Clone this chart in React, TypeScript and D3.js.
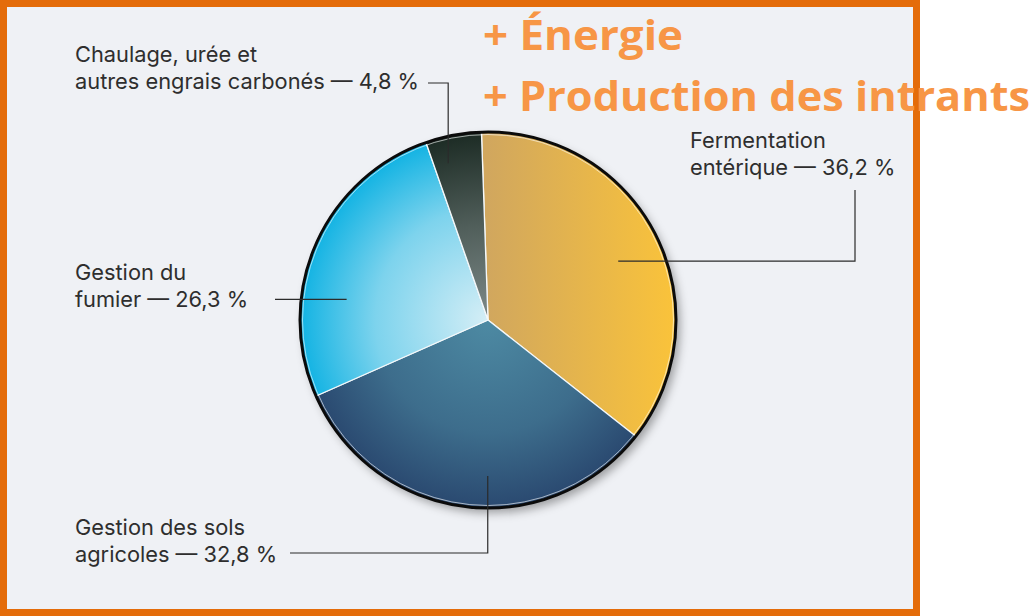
import React, { useEffect, useRef } from 'react';
import * as d3 from 'd3';

const categories = [
  'Fermentation entérique',
  'Gestion des sols agricoles',
  'Gestion du fumier',
  'Chaulage, urée et autres engrais carbonés',
];
const shares = [36.2, 32.8, 26.3, 4.8];
const labelLines = [
  ['Fermentation', 'entérique — 36,2 %'],
  ['Gestion des sols', 'agricoles — 32,8 %'],
  ['Gestion du', 'fumier — 26,3 %'],
  ['Chaulage, urée et', 'autres engrais carbonés — 4,8 %'],
];
const overlayLines = ['+ Énergie', '+ Production des intrants'];

const W = 1034;
const H = 616;

const App = () => {
  const svgRef = useRef<SVGSVGElement>(null);

  useEffect(() => {
    const svg = d3.select(svgRef.current);
    svg.selectAll('*').remove();

    const cx = 488, cy = 320, R = 188;
    const start = (-2 * Math.PI) / 180;

    const defs = svg.append('defs');
    const shadow = defs.append('filter').attr('id', 'shadow')
      .attr('x', '-20%').attr('y', '-20%').attr('width', '140%').attr('height', '140%');
    shadow.append('feDropShadow')
      .attr('dx', 4).attr('dy', 5).attr('stdDeviation', 5)
      .attr('flood-color', '#000').attr('flood-opacity', 0.35);

    // gradients live in the pie group's coordinates (centre at 0,0)
    const yellow = defs.append('linearGradient').attr('id', 'g0')
      .attr('gradientUnits', 'userSpaceOnUse')
      .attr('x1', 0).attr('y1', 0).attr('x2', R).attr('y2', 0);
    yellow.append('stop').attr('offset', 0).attr('stop-color', '#d1a75e');
    yellow.append('stop').attr('offset', 1).attr('stop-color', '#fac33a');

    const radial = (id: string, inner: string, outer: string, mid = 0.55) => {
      const g = defs.append('radialGradient').attr('id', id)
        .attr('gradientUnits', 'userSpaceOnUse')
        .attr('cx', 0).attr('cy', 0).attr('r', R);
      g.append('stop').attr('offset', 0).attr('stop-color', inner);
      g.append('stop').attr('offset', mid).attr('stop-color', d3.interpolateRgb(inner, outer)(0.45));
      g.append('stop').attr('offset', 1).attr('stop-color', outer);
    };
    radial('g1', '#4d8aa3', '#2a4970', 0.6);
    radial('g2', '#d5eef6', '#12b3e3', 0.6);
    radial('g3', '#7d8988', '#1c2b24', 0.5);

    // background panel with orange frame
    svg.append('rect')
      .attr('x', 3.5).attr('y', 3.5).attr('width', 913).attr('height', 609)
      .attr('fill', '#eff1f5').attr('stroke', '#e46c0a').attr('stroke-width', 7);

    const pie = d3.pie<number>().sort(null).value(d => d)
      .startAngle(start).endAngle(start + 2 * Math.PI);
    const arcs = pie(shares);
    const arc = d3.arc<d3.PieArcDatum<number>>().innerRadius(0).outerRadius(R);

    const g = svg.append('g').attr('transform', `translate(${cx},${cy})`);
    g.append('circle').attr('r', R).attr('fill', '#2a4970').attr('filter', 'url(#shadow)');
    g.selectAll('path.slice')
      .data(arcs)
      .enter()
      .append('path')
      .attr('class', 'slice')
      .attr('d', arc)
      .attr('fill', (_, i) => `url(#g${i})`)
      .attr('stroke', '#f4f8fa')
      .attr('stroke-width', 1.3)
      .append('title').text((_, i) => categories[i]);
    g.append('circle').attr('r', R - 2.5).attr('fill', 'none')
      .attr('stroke', '#ffffff').attr('stroke-opacity', 0.6).attr('stroke-width', 1);
    g.append('circle').attr('r', R).attr('fill', 'none')
      .attr('stroke', '#0b0b0b').attr('stroke-width', 3);

    // anchor point inside a slice
    const anchor = (i: number, frac: number, k: number) => {
      const a = arcs[i].startAngle + frac * (arcs[i].endAngle - arcs[i].startAngle);
      return [cx + Math.sin(a) * R * k, cy - Math.cos(a) * R * k];
    };

    const leaders: { pts: number[][]; }[] = [];
    const a0 = anchor(0, 0.52, 0.76);
    leaders.push({ pts: [a0, [855, a0[1]], [855, 190]] });
    const a1 = anchor(1, 0.44, 0.83);
    leaders.push({ pts: [a1, [a1[0], 553], [290, 553]] });
    const a2 = anchor(2, 0.34, 0.76);
    leaders.push({ pts: [a2, [275, a2[1]]] });
    const a3 = anchor(3, 0.29, 0.86);
    leaders.push({ pts: [a3, [a3[0], 83], [428, 83]] });

    const line = d3.line<number[]>().x(d => d[0]).y(d => d[1]);
    svg.append('g').selectAll('path')
      .data(leaders)
      .enter()
      .append('path')
      .attr('d', d => line(d.pts))
      .attr('fill', 'none')
      .attr('stroke', '#2b2b2b')
      .attr('stroke-width', 1.2);

    const labelPos = [[690, 148], [75, 535], [75, 280], [75, 62]];
    const labels = svg.append('g')
      .attr('font-family', 'Inter, "Noto Sans", sans-serif')
      .attr('font-size', 21.8)
      .attr('fill', '#2e2e2e');
    labelLines.forEach((lines, i) => {
      const t = labels.append('text').attr('x', labelPos[i][0]).attr('y', labelPos[i][1]);
      lines.forEach((s, j) => {
        t.append('tspan').attr('x', labelPos[i][0]).attr('dy', j === 0 ? 0 : 27).text(s);
      });
    });

    const overlay = svg.append('g')
      .attr('font-family', '"Open Sans", "Noto Sans", sans-serif')
      .attr('font-weight', 700)
      .attr('font-size', 42)
      .attr('fill', '#f79646');
    const overlayY = [50, 111];
    const overlayW = [200, 547];
    overlayLines.forEach((s, i) => {
      overlay.append('text')
        .attr('x', 483).attr('y', overlayY[i])
        .attr('textLength', overlayW[i])
        .attr('lengthAdjust', 'spacingAndGlyphs')
        .text(s);
    });
  }, []);

  return (
    <svg
      ref={svgRef}
      width={W}
      height={H}
      style={{ position: 'absolute', left: 0, top: 0, background: '#ffffff' }}
    />
  );
};

export default App;
